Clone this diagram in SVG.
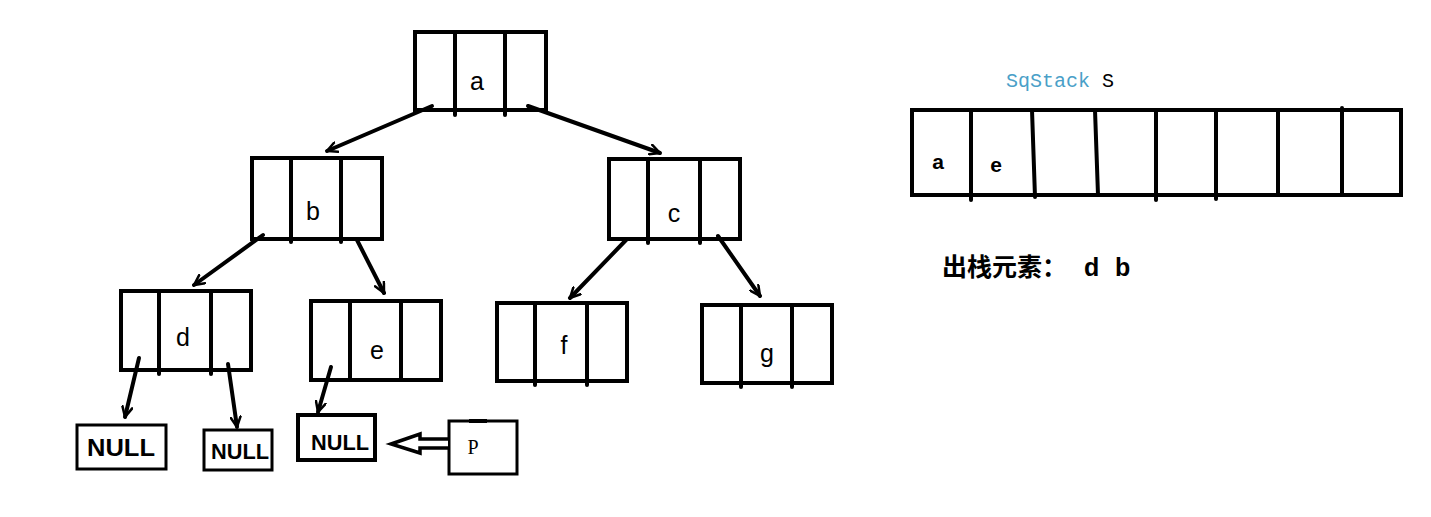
<svg xmlns="http://www.w3.org/2000/svg" width="1431" height="517" viewBox="0 0 1431 517">
<defs>
<style>
.box{fill:#fff;stroke:#000;stroke-width:4}
.div{stroke:#000;stroke-width:4;stroke-linecap:round}
.lbl{font-family:"Liberation Sans",Arial,sans-serif;font-size:25px;fill:#000;text-anchor:middle}
.null{font-family:"Liberation Sans",Arial,sans-serif;font-weight:bold;font-size:24px;fill:#000;text-anchor:middle}
.edge{stroke:#000;stroke-width:4;fill:none;stroke-linecap:round}
</style>
<marker id="ah" viewBox="0 0 12 12" refX="11" refY="6" markerWidth="12" markerHeight="12" markerUnits="userSpaceOnUse" orient="auto">
<path d="M1,1 L11,6 L1,11" fill="none" stroke="#000" stroke-width="2.5" stroke-linecap="round"/>
</marker>
</defs>
<rect width="1431" height="517" fill="#fff"/>
<g id="node-a">
<rect class="box" x="415" y="32" width="131" height="78"/>
<line class="div" x1="455" y1="32" x2="455" y2="115"/>
<line class="div" x1="505" y1="32" x2="505" y2="115"/>
<text class="lbl" x="477" y="90">a</text>
</g>
<g id="node-b">
<rect class="box" x="252" y="158" width="130" height="81"/>
<line class="div" x1="291" y1="158" x2="291" y2="242"/>
<line class="div" x1="341" y1="158" x2="341" y2="242"/>
<text class="lbl" x="313" y="220">b</text>
</g>
<g id="node-c">
<rect class="box" x="609" y="159" width="131" height="80"/>
<line class="div" x1="648" y1="159" x2="648" y2="243"/>
<line class="div" x1="700" y1="159" x2="700" y2="243"/>
<text class="lbl" x="674" y="222">c</text>
</g>
<g id="node-d">
<rect class="box" x="121" y="291" width="130" height="79"/>
<line class="div" x1="159" y1="291" x2="159" y2="374"/>
<line class="div" x1="211" y1="291" x2="211" y2="374"/>
<text class="lbl" x="183" y="346">d</text>
</g>
<g id="node-e">
<rect class="box" x="311" y="301" width="130" height="79"/>
<line class="div" x1="350" y1="301" x2="350" y2="380"/>
<line class="div" x1="401" y1="301" x2="401" y2="380"/>
<text class="lbl" x="377" y="359">e</text>
</g>
<g id="node-f">
<rect class="box" x="497" y="303" width="130" height="78"/>
<line class="div" x1="535" y1="303" x2="535" y2="385"/>
<line class="div" x1="587" y1="303" x2="587" y2="385"/>
<text class="lbl" x="564" y="354">f</text>
</g>
<g id="node-g">
<rect class="box" x="702" y="305" width="130" height="78"/>
<line class="div" x1="741" y1="305" x2="741" y2="387"/>
<line class="div" x1="792" y1="305" x2="792" y2="387"/>
<text class="lbl" x="767" y="362">g</text>
</g>
<g id="null-1">
<rect x="77" y="425" width="89" height="44" fill="#fff" stroke="#000" stroke-width="3"/>
<text class="null" x="121" y="456" textLength="68" lengthAdjust="spacingAndGlyphs">NULL</text>
</g>
<g id="null-2">
<rect x="204" y="430" width="68" height="40" fill="#fff" stroke="#000" stroke-width="3"/>
<text class="null" x="240" y="459" style="font-size:22px" textLength="58" lengthAdjust="spacingAndGlyphs">NULL</text>
</g>
<g id="null-3">
<rect x="298" y="415" width="77" height="45" fill="#fff" stroke="#000" stroke-width="4"/>
<text class="null" x="340" y="450" style="font-size:22px" textLength="58" lengthAdjust="spacingAndGlyphs">NULL</text>
</g>
<g id="node-p">
<rect x="449" y="421" width="68" height="53" fill="#fff" stroke="#000" stroke-width="3"/>
<line x1="469" y1="421" x2="487" y2="421" stroke="#000" stroke-width="4"/>
<text x="473" y="454" style="font-family:'Liberation Serif','Times New Roman',serif;font-size:20px" text-anchor="middle">P</text>
</g>
<g id="connectors">
<line class="edge" x1="432" y1="106" x2="327" y2="151" marker-end="url(#ah)"/>
<line class="edge" x1="528" y1="106" x2="660" y2="153" marker-end="url(#ah)"/>
<line class="edge" x1="263" y1="235" x2="194" y2="285" marker-end="url(#ah)"/>
<line class="edge" x1="357" y1="240" x2="384" y2="293" marker-end="url(#ah)"/>
<line class="edge" x1="627" y1="239" x2="570" y2="298" marker-end="url(#ah)"/>
<line class="edge" x1="718" y1="236" x2="760" y2="296" marker-end="url(#ah)"/>
<line class="edge" x1="139" y1="358" x2="125" y2="417" marker-end="url(#ah)"/>
<line class="edge" x1="228" y1="364" x2="237" y2="427" marker-end="url(#ah)"/>
<line class="edge" x1="331" y1="367" x2="318" y2="412" marker-end="url(#ah)"/>
<path d="M448,439 L420,439 L420,434 L391,444 L420,453 L420,448 L448,448" fill="#fff" stroke="#000" stroke-width="3.5" stroke-linejoin="miter"/>
</g>
<g id="stack">
<text x="1006" y="87" style="font-family:'Liberation Mono','Courier New',monospace;font-size:20px" fill="#4a9fc8">SqStack <tspan fill="#000">S</tspan></text>
<rect class="box" x="912" y="110" width="489" height="85"/>
<line class="div" x1="971" y1="110" x2="971" y2="200"/>
<line class="div" x1="1032" y1="110" x2="1035" y2="197"/>
<line class="div" x1="1095" y1="110" x2="1098" y2="195"/>
<line class="div" x1="1156" y1="110" x2="1156" y2="200"/>
<line class="div" x1="1216" y1="110" x2="1216" y2="199"/>
<line class="div" x1="1278" y1="110" x2="1278" y2="195"/>
<line class="div" x1="1342" y1="108" x2="1342" y2="195"/>
<text x="938" y="169" style="font-family:'Liberation Sans',Arial,sans-serif;font-size:21px;font-weight:bold" text-anchor="middle">a</text>
<text x="996" y="172" style="font-family:'Liberation Sans',Arial,sans-serif;font-size:21px;font-weight:bold" text-anchor="middle">e</text>
</g>
<g id="popped">
<text x="942" y="276" style="font-family:'Liberation Sans','Noto Sans CJK SC',sans-serif;font-size:25px;font-weight:bold">出栈元素：<tspan x="1084">d</tspan><tspan x="1115">b</tspan></text>
</g>
</svg>
